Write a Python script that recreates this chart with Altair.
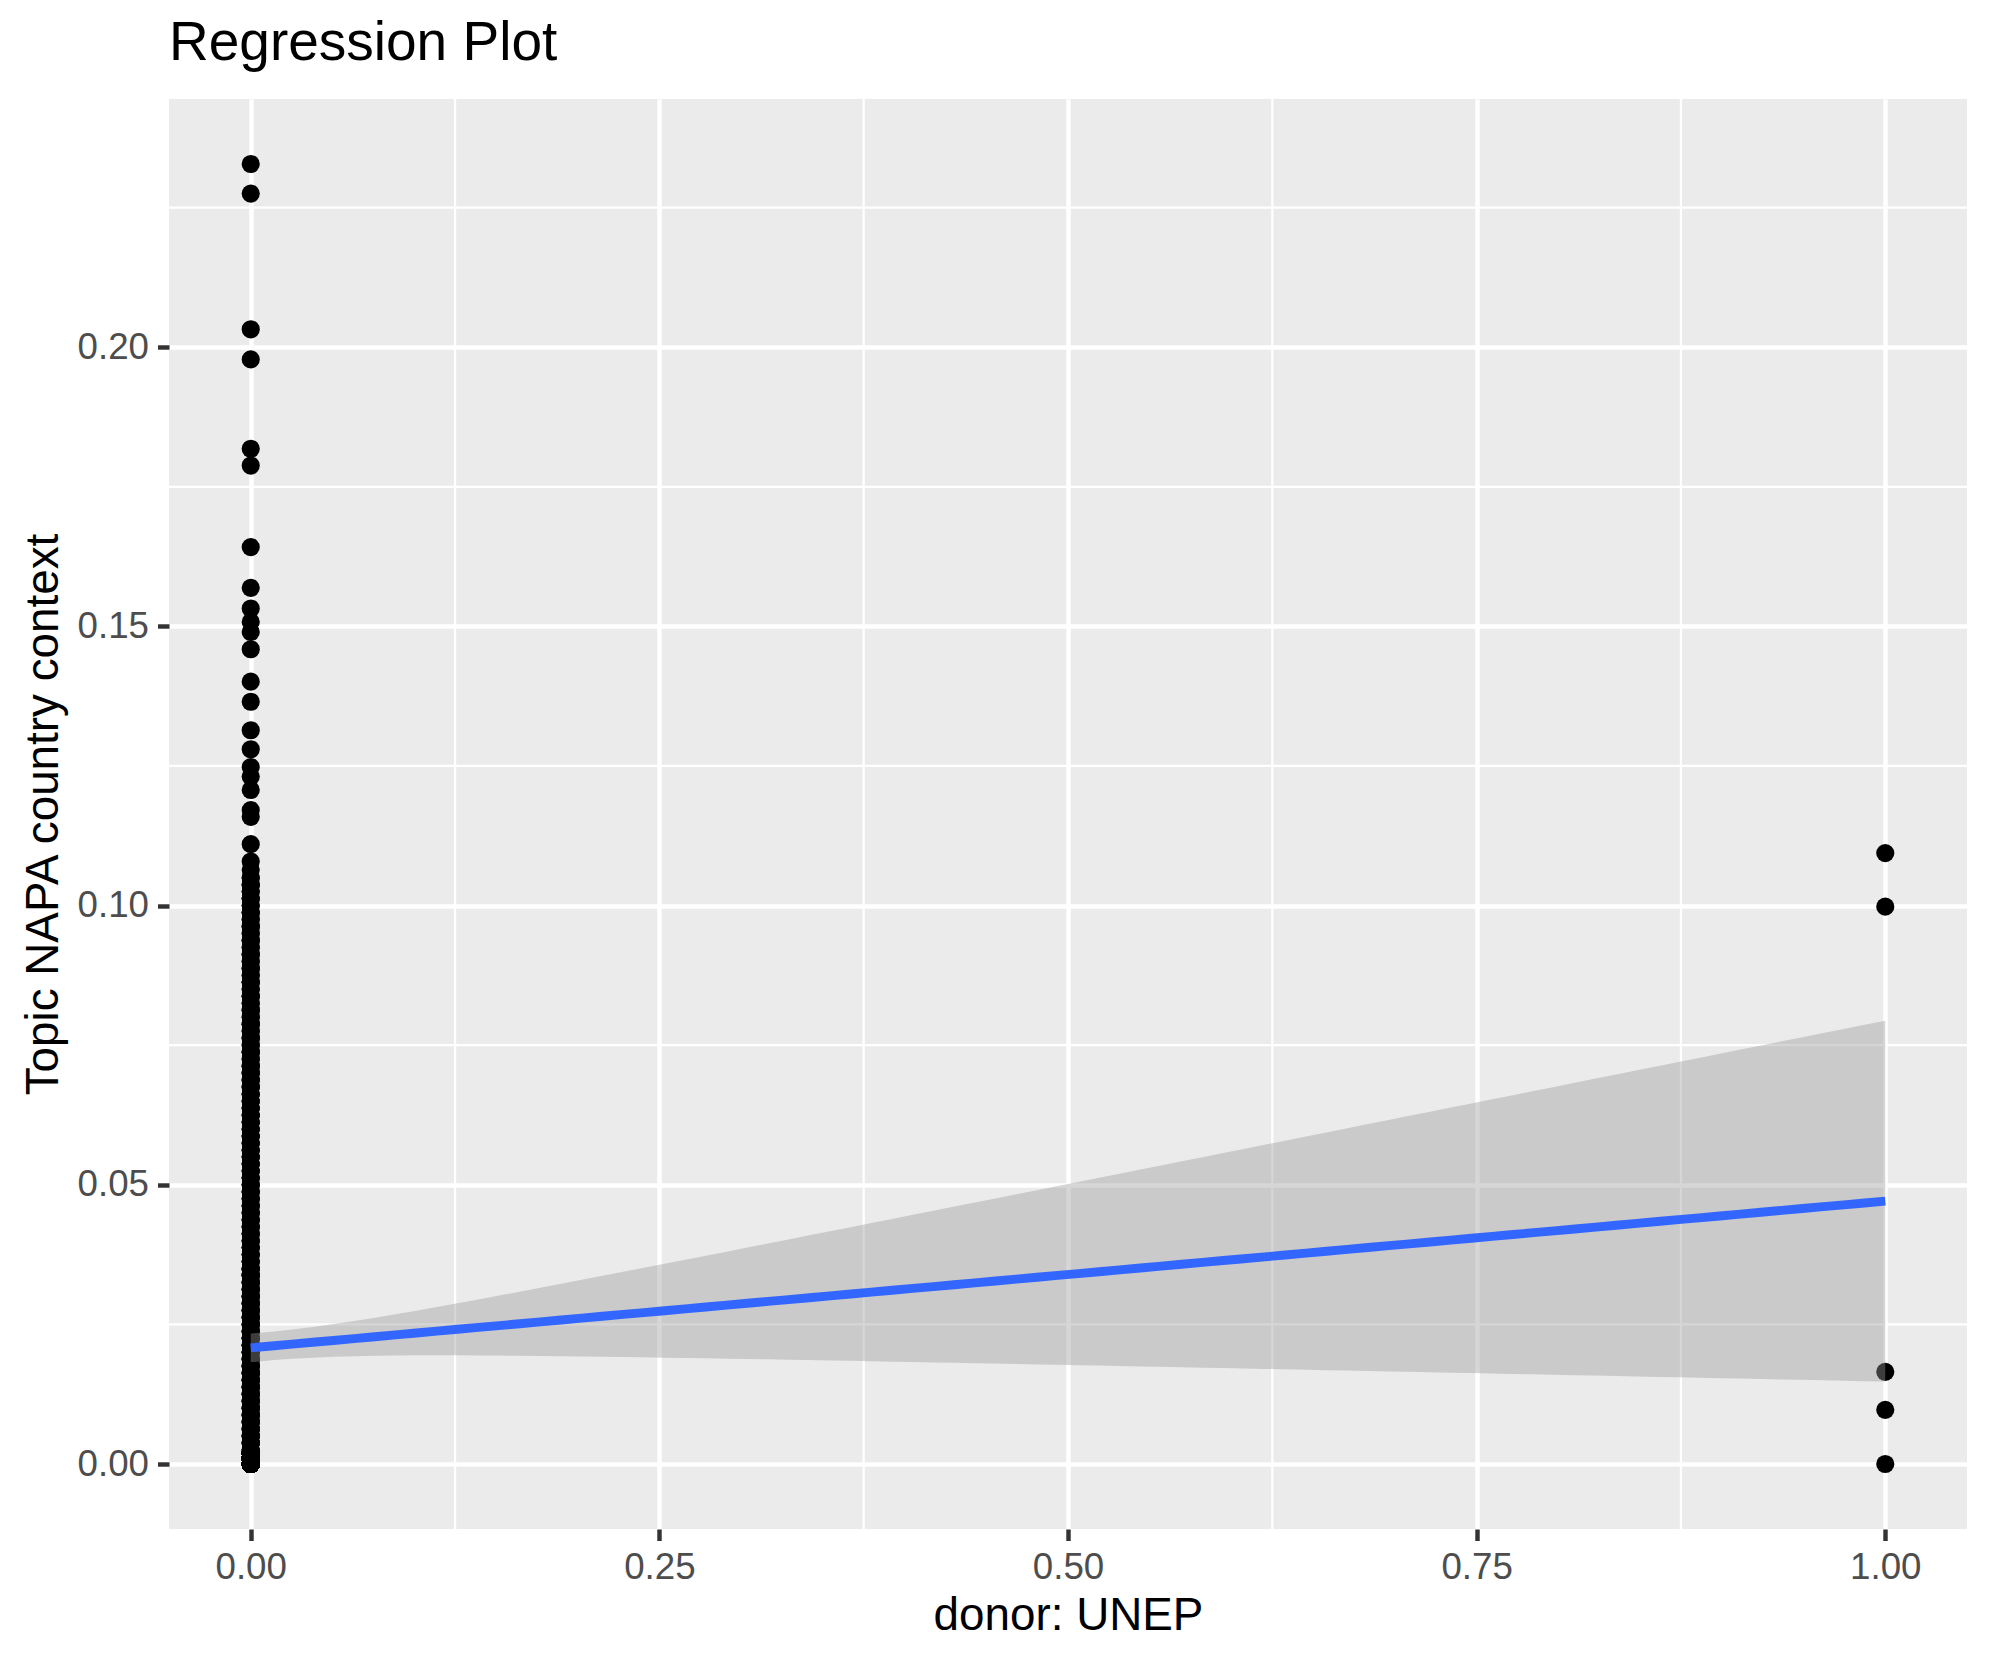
import altair as alt
import numpy as np
import pandas as pd

title_text = "Regression Plot"
x_title = "donor: UNEP"
y_title = "Topic NAPA country context"

x_ticks = [0.0, 0.25, 0.5, 0.75, 1.0]
x_minor = [0.125, 0.375, 0.625, 0.875]
y_ticks = [0.0, 0.05, 0.10, 0.15, 0.20]
y_minor = [0.025, 0.075, 0.125, 0.175, 0.225]

# donor: UNEP = 0 -- separately visible points
x0_upper = [0.2328, 0.2275, 0.2032, 0.1978, 0.1818, 0.1788, 0.1642, 0.1569,
            0.1532, 0.1508, 0.1490, 0.1459, 0.1401, 0.1365, 0.1314, 0.1280,
            0.1248, 0.1231, 0.1207, 0.1171, 0.1159, 0.1110, 0.1079, 0.1064]
# donor: UNEP = 0 -- dense overplotted column (value, estimated multiplicity)
x0_dense = [0.00000, 0.00100, 0.00200,
            0.00250, 0.00375, 0.00500, 0.00625, 0.00750, 0.00875, 0.01000,
            0.01125, 0.01250, 0.01375, 0.01500, 0.01625, 0.01750, 0.01875,
            0.02000, 0.02125, 0.02250, 0.02375, 0.02500, 0.02625, 0.02750,
            0.02875, 0.03000, 0.03125, 0.03250, 0.03375, 0.03500,
            0.03625, 0.03750, 0.03875, 0.04000, 0.04125, 0.04250, 0.04375,
            0.04500, 0.04625, 0.04750, 0.04875, 0.05000, 0.05125, 0.05250,
            0.05375, 0.05500, 0.05625, 0.05750, 0.05875, 0.06000, 0.06125,
            0.06250, 0.06375, 0.06500, 0.06625, 0.06750, 0.06875, 0.07000,
            0.07125, 0.07250, 0.07375, 0.07500, 0.07625, 0.07750, 0.07875,
            0.08000, 0.08125, 0.08250, 0.08375, 0.08500, 0.08625, 0.08750,
            0.08875, 0.09000, 0.09125, 0.09250, 0.09375, 0.09500, 0.09625,
            0.09750, 0.09875, 0.10000, 0.10125, 0.10250, 0.10375, 0.10500]
x0_dense_counts = [290, 140, 80,
                   4, 4, 4, 4, 4, 4, 4, 4, 4, 4, 4, 4, 4, 4,
                   4, 4, 4, 4, 4, 4, 4, 4, 4, 4, 4, 4, 4,
                   3, 3, 3, 3, 3, 3, 3, 3, 3, 3, 3, 3, 3, 3,
                   3, 3, 3, 3, 3, 3, 3, 3, 3, 3, 3, 3, 3, 3,
                   3, 2, 3, 2, 3, 2, 3, 2, 3, 2, 3, 2, 3, 2,
                   3, 2, 3, 2, 3, 2, 3, 2, 3, 2, 3, 2, 3, 2]
# donor: UNEP = 1
x1_vals = [0.1094, 0.0998, 0.0165, 0.0097, 0.0000]

# ---- assemble observations
y0 = list(x0_upper) + list(np.repeat(x0_dense, x0_dense_counts))
xs = np.array([0.0] * len(y0) + [1.0] * len(x1_vals))
ys = np.array(y0 + list(x1_vals))
pts = pd.DataFrame({"donor": xs, "topic": ys})

# ---- linear fit with 95% confidence band (as geom_smooth(method="lm"))
n = len(xs)
b1, b0 = np.polyfit(xs, ys, 1)
resid = ys - (b0 + b1 * xs)
df_ = n - 2
s = np.sqrt(np.sum(resid ** 2) / df_)
xbar = xs.mean()
sxx = np.sum((xs - xbar) ** 2)
z = 1.959964
tq = z + (z ** 3 + z) / (4 * df_) + (5 * z ** 5 + 16 * z ** 3 + 3 * z) / (96 * df_ ** 2)
grid = np.linspace(xs.min(), xs.max(), 80)
fit = b0 + b1 * grid
se = s * np.sqrt(1.0 / n + (grid - xbar) ** 2 / sxx)
band = pd.DataFrame({"donor": grid, "fit": fit, "lo": fit - tq * se, "hi": fit + tq * se})

# ---- scales (ggplot-style 5% expansion)
xr = xs.max() - xs.min()
yr = ys.max() - ys.min()
x_scale = alt.Scale(domain=[float(xs.min() - 0.05 * xr), float(xs.max() + 0.05 * xr)], nice=False, zero=False)
y_scale = alt.Scale(domain=[float(ys.min() - 0.05 * yr), float(ys.max() + 0.05 * yr)], nice=False, zero=False)

FONT = "Liberation Sans"
W, H = 1798, 1430

common_axis = dict(
    grid=True, gridColor="white", gridWidth=4.45,
    domain=False, ticks=True, tickColor="#333333", tickWidth=4.45, tickSize=11.5,
    labelFont=FONT, labelFontSize=36.7, labelColor="#4D4D4D", labelPadding=9,
    labelFlush=False, labelOverlap=False,
    titleFont=FONT, titleFontSize=45.8, titleColor="black", titleFontWeight="normal",
    titleBaseline="alphabetic",
)

x_axis = alt.Axis(values=x_ticks, format=".2f", title=x_title,
                  titleX=W / 2, titleY=100, titleAlign="center", **common_axis)
y_axis = alt.Axis(values=y_ticks, format=".2f", title=y_title,
                  titleX=-112, titleY=H / 2, titleAngle=270, titleAlign="center", **common_axis)

X = lambda f: alt.X(f, scale=x_scale, axis=x_axis)
Y = lambda f: alt.Y(f, scale=y_scale, axis=y_axis)

minor_x = alt.Chart(pd.DataFrame({"donor": x_minor})).mark_rule(
    color="white", strokeWidth=2.22).encode(x=X("donor:Q"))
minor_y = alt.Chart(pd.DataFrame({"topic": y_minor})).mark_rule(
    color="white", strokeWidth=2.22).encode(y=Y("topic:Q"))

points = alt.Chart(pts).mark_circle(size=330, color="black", opacity=1).encode(
    x=X("donor:Q"), y=Y("topic:Q"))

ribbon = alt.Chart(band).mark_area(color="#999999", opacity=0.4).encode(
    x=X("donor:Q"), y=Y("lo:Q"), y2="hi:Q")

line = alt.Chart(band).mark_line(color="#3366FF", strokeWidth=8.9).encode(
    x=X("donor:Q"), y=Y("fit:Q"))

chart = alt.layer(minor_x, minor_y, points, ribbon, line).properties(
    width=W, height=H,
    background="white",
    title=alt.TitleParams(text=title_text, anchor="start", frame="group",
                          font=FONT, fontSize=55, fontWeight="normal",
                          color="black", baseline="alphabetic", offset=-17),
    autosize=alt.AutoSizeParams(type="none"),
    padding={"left": 161, "top": 91, "right": 15, "bottom": 120},
).configure_view(fill="#EBEBEB", stroke=None)

chart.save("out.html", embed_options={"renderer": "svg", "actions": False})
